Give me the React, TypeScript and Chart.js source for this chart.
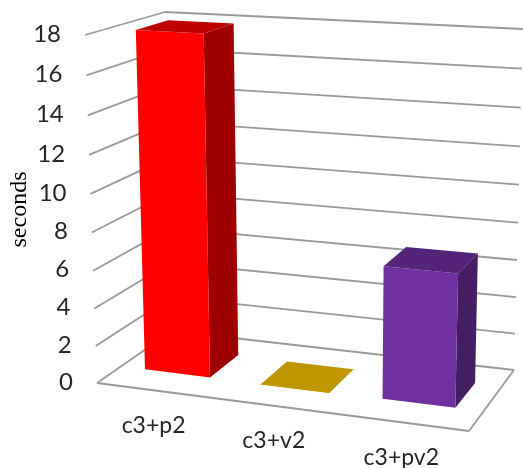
import React, { useEffect, useRef } from "react";
import { Chart, registerables, LinearScale, CategoryScale } from "chart.js";

const categories = ["c3+p2", "c3+v2", "c3+pv2"];
const seconds = [18, 0.01, 6.95];
const faceColors = ["#ff0000", "#ffc800", "#7030a0"];
const axisTitle = "seconds";
const yMax = 18;
const yStep = 2;

type Pt = { x: number; y: number };
// Picture-space corners of the 3D box the chart stands in
const floorCorners: Pt[] = [{ x: 97, y: 383 }, { x: 469, y: 431 }, { x: 514, y: 370 }, { x: 172, y: 331 }];
const topCorners: Pt[] = [{ x: 85, y: 35 }, { x: 478, y: 56.5 }, { x: 523, y: 29 }, { x: 165, y: 12 }];
const heightPerspective = 1.05;
const barDepthFront = 0.3;
const barDepthBack = 0.716;

function squareToQuad(q: Pt[]) {
  const [p0, p1, p2, p3] = q;
  const dx1 = p1.x - p2.x, dx2 = p3.x - p2.x, sx = p0.x - p1.x + p2.x - p3.x;
  const dy1 = p1.y - p2.y, dy2 = p3.y - p2.y, sy = p0.y - p1.y + p2.y - p3.y;
  const den = dx1 * dy2 - dx2 * dy1;
  const g = (sx * dy2 - dx2 * sy) / den;
  const h = (dx1 * sy - sx * dy1) / den;
  const a = p1.x - p0.x + g * p1.x, b = p3.x - p0.x + h * p3.x, c = p0.x;
  const d = p1.y - p0.y + g * p1.y, e = p3.y - p0.y + h * p3.y, f = p0.y;
  return (u: number, v: number): Pt => {
    const w = g * u + h * v + 1;
    return { x: (a * u + b * v + c) / w, y: (d * u + e * v + f) / w };
  };
}
const floorMap = squareToQuad(floorCorners);
const topMap = squareToQuad(topCorners);

// u: across the categories (0..1), t: height fraction (0..1), d: depth (0 front, 1 back)
function project(u: number, t: number, d: number): Pt {
  const a = floorMap(u, d);
  const b = topMap(u, d);
  const k = heightPerspective;
  const s = t / (t + k * (1 - t));
  return { x: a.x + (b.x - a.x) * s, y: a.y + (b.y - a.y) * s };
}

const GRID = "#9a9a9a";

class PerspectiveLinear extends (LinearScale as any) {
  static id = "perspectiveLinear";
  static defaults = (LinearScale as any).defaults;
  _frac(value: number) {
    const self = this as any;
    return (self.bottom - self.getPixelForValue(value)) / (self.bottom - self.top);
  }
  _computeLabelArea() {
    return undefined;
  }
  _computeGridLineItems(area: any) {
    const self = this as any;
    const items = super._computeGridLineItems(area);
    items.forEach((it: any, i: number) => {
      const t = this._frac(self.ticks[i].value);
      const a = project(0, t, 0), b = project(0, t, 1), c = project(1, t, 1);
      it.tx1 = a.x; it.ty1 = a.y; it.tx2 = b.x; it.ty2 = b.y;
      it.x1 = b.x; it.y1 = b.y; it.x2 = c.x; it.y2 = c.y;
    });
    if (items.length) {
      const a = project(0, 0, 0), b = project(1, 0, 0), c = project(1, 0, 1);
      items.push({ ...items[0], tx1: a.x, ty1: a.y, tx2: b.x, ty2: b.y, x1: b.x, y1: b.y, x2: c.x, y2: c.y });
    }
    return items;
  }
  _computeLabelItems(area: any) {
    const self = this as any;
    const items = super._computeLabelItems(area);
    items.forEach((it: any, i: number) => {
      const t = this._frac(self.ticks[i].value);
      const p = project(0, t, 0);
      it.options.translation = [p.x - 24, p.y - 1];
      it.options.textAlign = "right";
      it.options.textBaseline = "middle";
      it.textOffset = 0;
    });
    return items;
  }
}

class PerspectiveCategory extends (CategoryScale as any) {
  static id = "perspectiveCategory";
  static defaults = (CategoryScale as any).defaults;
  _computeLabelArea() {
    return undefined;
  }
  _computeLabelItems(area: any) {
    const self = this as any;
    const items = super._computeLabelItems(area);
    items.forEach((it: any, i: number) => {
      const px = self.getPixelForTick(i);
      const u = (px - self.left) / (self.right - self.left);
      const p = project(u, 0, 0);
      it.options.translation = [p.x - 1, p.y + 35];
      it.options.textAlign = "center";
      it.options.textBaseline = "middle";
      it.textOffset = 0;
    });
    return items;
  }
}

function shade(hex: string, f: number) {
  const n = parseInt(hex.slice(1), 16);
  const r = Math.round(((n >> 16) & 255) * f);
  const g = Math.round(((n >> 8) & 255) * f);
  const b = Math.round((n & 255) * f);
  return `rgb(${r},${g},${b})`;
}

function poly(ctx: CanvasRenderingContext2D, pts: Pt[], fill: string) {
  ctx.beginPath();
  pts.forEach((p, i) => (i ? ctx.lineTo(p.x, p.y) : ctx.moveTo(p.x, p.y)));
  ctx.closePath();
  ctx.fillStyle = fill;
  ctx.fill();
}

const bars3d = {
  id: "bars3d",
  beforeDatasetDraw(chart: any, args: any) {
    const ctx: CanvasRenderingContext2D = chart.ctx;
    const area = chart.chartArea;
    const ds = chart.data.datasets[args.index];
    args.meta.data.forEach((el: any, i: number) => {
      const u0 = (el.x - el.width / 2 - area.left) / area.width;
      const u1 = (el.x + el.width / 2 - area.left) / area.width;
      const t = (el.base - el.y) / area.height;
      const d0 = barDepthFront, d1 = barDepthBack;
      const face = ds.backgroundColor[i];
      ctx.save();
      poly(ctx, [project(u1, t, d0), project(u1, t, d1), project(u1, 0, d1), project(u1, 0, d0)], shade(face, 0.62));
      poly(ctx, [project(u0, 0, d0), project(u1, 0, d0), project(u1, t, d0), project(u0, t, d0)], face);
      poly(ctx, [project(u0, t, d0), project(u1, t, d0), project(u1, t, d1), project(u0, t, d1)], shade(face, 0.75));
      ctx.restore();
    });
    return false;
  },
};

Chart.register(...registerables, PerspectiveLinear as any, PerspectiveCategory as any);

export default function App() {
  const ref = useRef<HTMLCanvasElement>(null);
  useEffect(() => {
    const chart = new Chart(ref.current!, {
      type: "bar",
      data: {
        labels: categories,
        datasets: [{ data: seconds, backgroundColor: faceColors, barPercentage: 0.57, categoryPercentage: 1 }],
      },
      plugins: [bars3d],
      options: {
        responsive: false,
        animation: false,
        layout: { padding: { left: 5, top: 60, right: 10, bottom: 69 } },
        plugins: { legend: { display: false }, tooltip: { enabled: false } },
        scales: {
          x: {
            type: "perspectiveCategory",
            offset: true,
            grid: { display: false },
            border: { display: false },
            ticks: { color: "#262626", font: { family: "Lato", size: 23 }, maxRotation: 0, minRotation: 0, autoSkip: false },
            afterFit: (s: any) => { s.height = 40; },
          },
          y: {
            type: "perspectiveLinear",
            min: 0,
            max: yMax,
            grid: { color: GRID, lineWidth: 1.8, tickColor: GRID, tickWidth: 1.8, drawTicks: true, drawOnChartArea: true },
            border: { display: false },
            ticks: { stepSize: yStep, color: "#262626", font: { family: "Lato", size: 24 }, autoSkip: false },
            title: { display: true, text: axisTitle, color: "#000", font: { family: "Liberation Serif", size: 24 }, padding: 0 },
            afterFit: (s: any) => { s.width = 60; },
          },
        },
      } as any,
    } as any);
    return () => chart.destroy();
  }, []);
  return (
    <div style={{ position: "absolute", left: 0, top: 0, width: 523, height: 468, background: "#fff" }}>
      <canvas ref={ref} width={523} height={468} style={{ display: "block" }} />
    </div>
  );
}
